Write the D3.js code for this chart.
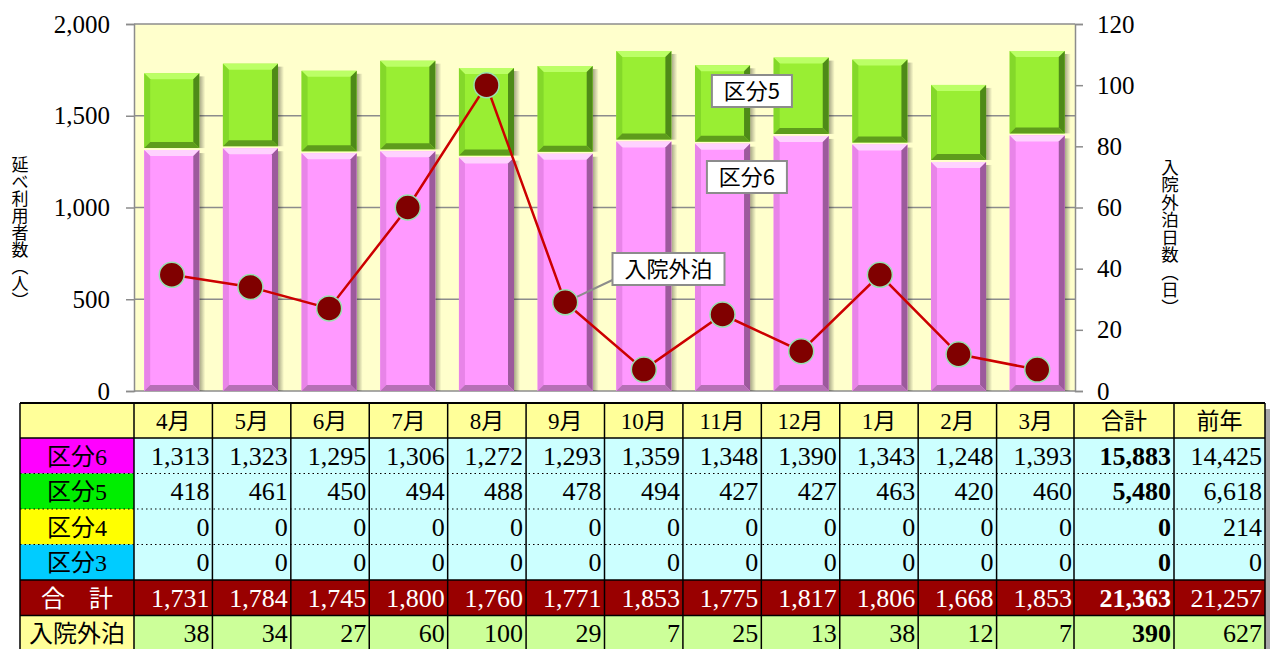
<!DOCTYPE html>
<html>
<head>
<meta charset="utf-8">
<script src="https://cdn.jsdelivr.net/npm/d3@7/dist/d3.min.js"></script>
<style>
body { margin: 0; background: #fff; }
text { font-family: "Liberation Serif", "Noto Sans CJK JP", serif; }
.sans { font-family: "Noto Sans CJK JP", sans-serif; }
</style>
</head>
<body>
<div id="chart"></div>
<script>
// data
const months = ["4月","5月","6月","7月","8月","9月","10月","11月","12月","1月","2月","3月"];
const kubun6 = [1313,1323,1295,1306,1272,1293,1359,1348,1390,1343,1248,1393];
const kubun5 = [418,461,450,494,488,478,494,427,427,463,420,460];
const kubun4 = [0,0,0,0,0,0,0,0,0,0,0,0];
const kubun3 = [0,0,0,0,0,0,0,0,0,0,0,0];
const totals = [1731,1784,1745,1800,1760,1771,1853,1775,1817,1806,1668,1853];
const gaihaku = [38,34,27,60,100,29,7,25,13,38,12,7];
const sumCol = [15883,5480,0,0,21363,390];
const prevCol = [14425,6618,214,0,21257,627];
const leftTicks = [0,500,1000,1500,2000];
const rightTicks = [0,20,40,60,80,100,120];

const W = 1276, H = 649;
const svg = d3.select("#chart").append("svg")
    .attr("width", W).attr("height", H);

const pLeft = 134, pRight = 1075, pTop = 24, pBottom = 391;

const x = d3.scaleBand().domain(months).range([pLeft, pRight])
    .paddingInner(0.3).paddingOuter(0.13);
const xCol = d3.scaleBand().domain(months).range([pLeft, pRight]);
const yL = d3.scaleLinear().domain([0, 2000]).range([pBottom, pTop]);
const yR = d3.scaleLinear().domain([0, 120]).range([pBottom, pTop]);

const fmt = d3.format(",");

// gradient for the bar shadow
const defs = svg.append("defs");
const sg = defs.append("linearGradient").attr("id", "shadow");
sg.append("stop").attr("offset", "0%").attr("stop-color", "#000").attr("stop-opacity", 0.35);
sg.append("stop").attr("offset", "100%").attr("stop-color", "#000").attr("stop-opacity", 0);

// plot background
svg.append("rect")
    .attr("x", pLeft).attr("y", pTop)
    .attr("width", pRight - pLeft).attr("height", pBottom - pTop)
    .attr("fill", "#ffffcc");

// gridlines
svg.append("g").selectAll("line").data(leftTicks).join("line")
    .attr("x1", pLeft).attr("x2", pRight)
    .attr("y1", d => yL(d)).attr("y2", d => yL(d))
    .attr("stroke", "#8c8c8c").attr("stroke-width", 1.5);

// left axis
const axL = svg.append("g").attr("transform", `translate(${pLeft},0)`)
    .call(d3.axisLeft(yL).tickValues(leftTicks).tickFormat(fmt).tickSize(8).tickPadding(16));
axL.attr("font-family", null);
axL.select(".domain").attr("stroke", "#8c8c8c").attr("stroke-width", 1.5);
axL.selectAll(".tick line").attr("stroke", "#8c8c8c").attr("stroke-width", 1.5);
axL.selectAll("text").attr("font-size", 25).attr("fill", "#000")
    .style("font-family", "'Liberation Serif', serif");

// right axis
const axR = svg.append("g").attr("transform", `translate(${pRight},0)`)
    .call(d3.axisRight(yR).tickValues(rightTicks).tickSize(8).tickPadding(14));
axR.attr("font-family", null);
axR.select(".domain").attr("stroke", "#8c8c8c").attr("stroke-width", 1.5);
axR.selectAll(".tick line").attr("stroke", "#8c8c8c").attr("stroke-width", 1.5);
axR.selectAll("text").attr("font-size", 25).attr("fill", "#000")
    .style("font-family", "'Liberation Serif', serif");

// axis titles (vertical)
svg.append("text").attr("class", "sans")
    .attr("x", 20).attr("y", 233)
    .attr("text-anchor", "middle")
    .style("writing-mode", "vertical-rl")
    .attr("font-size", 17)
    .text("延べ利用者数（人）");
svg.append("text").attr("class", "sans")
    .attr("x", 1170).attr("y", 237)
    .attr("text-anchor", "middle")
    .style("writing-mode", "vertical-rl")
    .attr("font-size", 17.5)
    .text("入院外泊日数（日）");

// beveled bar segment
function bevelBar(g, x0, y0, w, h, c) {
    const b = Math.min(6, h / 2);
    g.append("rect").attr("x", x0 + w).attr("y", y0 + 3)
        .attr("width", 6).attr("height", h - 3).attr("fill", "url(#shadow)");
    g.append("rect").attr("x", x0).attr("y", y0).attr("width", w).attr("height", h).attr("fill", c.base);
    const poly = (pts, fill) => g.append("polygon")
        .attr("points", pts.map(p => p.join(",")).join(" ")).attr("fill", fill);
    poly([[x0, y0], [x0 + w, y0], [x0 + w - b, y0 + b], [x0 + b, y0 + b]], c.top);
    poly([[x0, y0], [x0 + b, y0 + b], [x0 + b, y0 + h - b], [x0, y0 + h]], c.left);
    poly([[x0 + w, y0], [x0 + w, y0 + h], [x0 + w - b, y0 + h - b], [x0 + w - b, y0 + b]], c.right);
    poly([[x0, y0 + h], [x0 + b, y0 + h - b], [x0 + w - b, y0 + h - b], [x0 + w, y0 + h]], c.bottom);
}

const pink = { base: "#ff99ff", top: "#ffd2ff", left: "#e884e8", right: "#9c5a9c", bottom: "#b670b6" };
const green = { base: "#99ee33", top: "#bbff66", left: "#84d82a", right: "#4e8a18", bottom: "#5e9c1c" };

const bars = svg.append("g");
months.forEach((m, i) => {
    const g = bars.append("g");
    const bx = x(m), bw = x.bandwidth();
    const y6 = yL(kubun6[i]);
    bevelBar(g, bx, y6, bw, yL(0) - y6, pink);
    const y5 = yL(kubun6[i] + kubun5[i]);
    bevelBar(g, bx, y5, bw, y6 - y5 - 2, green);
});

// line series
const line = d3.line()
    .x((d, i) => x(months[i]) + x.bandwidth() / 2)
    .y(d => yR(d));
svg.append("path").datum(gaihaku)
    .attr("d", line).attr("fill", "none")
    .attr("stroke", "#cc0000").attr("stroke-width", 2.5);

// callouts
function callout(label, bx, by, bw, bh, fs) {
    const g = svg.append("g");
    g.append("rect").attr("x", bx).attr("y", by).attr("width", bw).attr("height", bh)
        .attr("fill", "#fff").attr("stroke", "#8c8c8c").attr("stroke-width", 2);
    g.append("text").attr("class", "sans")
        .attr("x", bx + bw / 2).attr("y", by + bh / 2 + fs * 0.36)
        .attr("text-anchor", "middle").attr("font-size", fs)
        .text(label);
    return g;
}
// leader for 入院外泊 to the 9月 marker
svg.append("line")
    .attr("x1", xCol("10月") + 8).attr("y1", 280)
    .attr("x2", x("9月") + x.bandwidth() / 2).attr("y2", yR(gaihaku[5]))
    .attr("stroke", "#8c8c8c").attr("stroke-width", 2);

svg.append("g").selectAll("circle").data(gaihaku).join("circle")
    .attr("cx", (d, i) => x(months[i]) + x.bandwidth() / 2)
    .attr("cy", d => yR(d))
    .attr("r", 12.5)
    .attr("fill", "#800000")
    .attr("stroke", "#99e0b0").attr("stroke-width", 1.5);

callout("区分5", xCol("11月") + 29, 75, 80, 32, 22);
callout("区分6", xCol("11月") + 24, 161, 80, 32, 22);
callout("入院外泊", xCol("10月") + 8, 253, 112, 32, 22);

// table
const tTop = 403, headH = 35, rowH = 35.5;
const labelX0 = 20, sumX0 = pRight - 1, prevX0 = 1174, tRight = 1265;

const rows = [
    { label: "区分6", lf: "#ff00ff", cf: "#ccffff", tc: "#000", vals: kubun6 },
    { label: "区分5", lf: "#00ee00", cf: "#ccffff", tc: "#000", vals: kubun5 },
    { label: "区分4", lf: "#ffff00", cf: "#ccffff", tc: "#000", vals: kubun4 },
    { label: "区分3", lf: "#00ccff", cf: "#ccffff", tc: "#000", vals: kubun3 },
    { label: "合　計", lf: "#990000", cf: "#990000", tc: "#fff", vals: totals },
    { label: "入院外泊", lf: "#ffff99", cf: "#ccff99", tc: "#000", vals: gaihaku }
];
rows.forEach((r, i) => { r.sum = sumCol[i]; r.prev = prevCol[i]; });

const cols = [{ x0: labelX0, x1: pLeft }]
    .concat(months.map(m => ({ x0: xCol(m), x1: xCol(m) + xCol.bandwidth() })))
    .concat([{ x0: sumX0, x1: prevX0 }, { x0: prevX0, x1: tRight }]);

const tbl = svg.append("g");
const tBottom = tTop + headH + rowH * rows.length;

// shadow
tbl.append("rect").attr("x", tRight).attr("y", tTop + 6)
    .attr("width", 5).attr("height", tBottom - tTop).attr("fill", "#a8a8a8");

// header
const headLabels = [""].concat(months).concat(["合計", "前年"]);
tbl.selectAll(".hcell").data(cols).join("rect")
    .attr("x", d => d.x0).attr("y", tTop)
    .attr("width", d => d.x1 - d.x0).attr("height", headH)
    .attr("fill", "#ffff99");
tbl.selectAll(".htext").data(cols).join("text")
    .attr("x", d => (d.x0 + d.x1) / 2).attr("y", tTop + headH / 2 + 8)
    .attr("text-anchor", "middle").attr("font-size", 23)
    .text((d, i) => headLabels[i]);

rows.forEach((r, ri) => {
    const ry = tTop + headH + ri * rowH;
    const g = tbl.append("g");
    const cells = [r.label].concat(r.vals).concat([r.sum, r.prev]);
    g.selectAll("rect").data(cols).join("rect")
        .attr("x", d => d.x0).attr("y", ry)
        .attr("width", d => d.x1 - d.x0).attr("height", rowH)
        .attr("fill", (d, i) => i === 0 ? r.lf : r.cf);
    g.selectAll("text").data(cols).join("text")
        .attr("x", (d, i) => i === 0 ? (d.x0 + d.x1) / 2 : d.x1 - 3)
        .attr("y", ry + rowH / 2 + 9)
        .attr("text-anchor", (d, i) => i === 0 ? "middle" : "end")
        .attr("font-size", (d, i) => i === 0 ? 24 : 26)
        .attr("font-weight", (d, i) => i === cols.length - 2 ? "bold" : "normal")
        .attr("fill", r.tc)
        .text((d, i) => i === 0 ? cells[i] : fmt(cells[i]));
});

// horizontal rules
const hLines = [
    { y: tTop + headH, dash: null },
    { y: tTop + headH + rowH, dash: "1.5,3" },
    { y: tTop + headH + rowH * 2, dash: "1.5,3" },
    { y: tTop + headH + rowH * 3, dash: "1.5,3" },
    { y: tTop + headH + rowH * 4, dash: null },
    { y: tTop + headH + rowH * 5, dash: null }
];
tbl.selectAll(".hl").data(hLines).join("line")
    .attr("x1", labelX0).attr("x2", tRight)
    .attr("y1", d => d.y).attr("y2", d => d.y)
    .attr("stroke", "#000")
    .attr("stroke-width", d => d.dash ? 1.2 : 1.5)
    .attr("stroke-dasharray", d => d.dash);

// vertical rules
const vx = cols.map(d => d.x0).concat([tRight]);
tbl.selectAll(".vl").data(vx).join("line")
    .attr("x1", d => d).attr("x2", d => d)
    .attr("y1", tTop).attr("y2", tBottom)
    .attr("stroke", "#000").attr("stroke-width", 1.5);
tbl.append("line").attr("x1", labelX0).attr("x2", tRight)
    .attr("y1", tTop).attr("y2", tTop)
    .attr("stroke", "#000").attr("stroke-width", 2);
</script>
</body>
</html>
